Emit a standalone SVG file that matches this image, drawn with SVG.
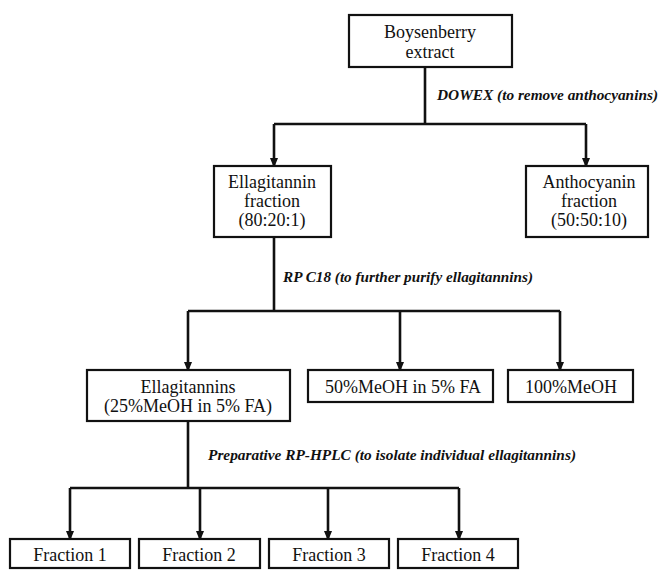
<svg xmlns="http://www.w3.org/2000/svg" width="661" height="571" viewBox="0 0 661 571">
<style>
.box{fill:#fff;stroke:#111;stroke-width:2.2}
.t{font-family:"Liberation Serif","Times New Roman",serif;font-size:18px;fill:#111;text-anchor:middle}
.lbl{font-family:"Liberation Serif","Times New Roman",serif;font-size:15px;font-weight:bold;font-style:italic;fill:#111}
.c{fill:none;stroke:#111;stroke-width:2.6}
.a{fill:none;stroke:#111;stroke-width:2.6;marker-end:url(#ah)}
</style>
<defs>
<marker id="ah" markerUnits="userSpaceOnUse" markerWidth="10" markerHeight="12" refX="10" refY="5" orient="auto" viewBox="0 0 12 10">
<path d="M0 0 L12 5 L0 10 Z" fill="#111"/>
</marker>
</defs>
<g id="connectors">
<path class="c" d="M425 67 V124"/>
<path class="c" d="M274 124 H586"/>
<path class="a" d="M274 124 V166"/>
<path class="a" d="M586 124 V166"/>
<path class="c" d="M274 237 V311"/>
<path class="c" d="M188 311 H560"/>
<path class="a" d="M188 311 V370"/>
<path class="a" d="M400 311 V370"/>
<path class="a" d="M560 311 V370"/>
<path class="c" d="M188 421 V488"/>
<path class="c" d="M70 488 H459"/>
<path class="a" d="M70 488 V539"/>
<path class="a" d="M200 488 V539"/>
<path class="a" d="M328 488 V539"/>
<path class="a" d="M459 488 V539"/>
</g>
<g id="labels">
<text class="lbl" x="437" y="100" textLength="221" lengthAdjust="spacingAndGlyphs">DOWEX (to remove anthocyanins)</text>
<text class="lbl" x="283" y="282" textLength="250" lengthAdjust="spacingAndGlyphs">RP C18 (to further purify ellagitannins)</text>
<text class="lbl" x="208" y="460" textLength="368" lengthAdjust="spacingAndGlyphs">Preparative RP-HPLC (to isolate individual ellagitannins)</text>
</g>
<g id="boysenberry">
<rect class="box" x="349" y="15" width="163" height="52"/>
<text class="t" x="430" y="38">Boysenberry</text>
<text class="t" x="430" y="58">extract</text>
</g>
<g id="ellagitannin-fraction">
<rect class="box" x="214" y="166" width="117" height="71"/>
<text class="t" x="272" y="188">Ellagitannin</text>
<text class="t" x="272" y="207">fraction</text>
<text class="t" x="272" y="226">(80:20:1)</text>
</g>
<g id="anthocyanin-fraction">
<rect class="box" x="526" y="166" width="122" height="71"/>
<text class="t" x="589" y="188">Anthocyanin</text>
<text class="t" x="589" y="207">fraction</text>
<text class="t" x="589" y="226">(50:50:10)</text>
</g>
<g id="ellagitannins">
<rect class="box" x="87" y="370" width="203" height="51"/>
<text class="t" x="188" y="393">Ellagitannins</text>
<text class="t" x="188" y="412">(25%MeOH in 5% FA)</text>
</g>
<g id="meoh50">
<rect class="box" x="308" y="370" width="185" height="32"/>
<text class="t" x="403" y="393">50%MeOH in 5% FA</text>
</g>
<g id="meoh100">
<rect class="box" x="508" y="370" width="125" height="32"/>
<text class="t" x="571" y="393">100%MeOH</text>
</g>
<g id="fraction1">
<rect class="box" x="10" y="539" width="120" height="29"/>
<text class="t" x="70" y="561">Fraction 1</text>
</g>
<g id="fraction2">
<rect class="box" x="139" y="539" width="121" height="29"/>
<text class="t" x="199" y="561">Fraction 2</text>
</g>
<g id="fraction3">
<rect class="box" x="269" y="539" width="120" height="29"/>
<text class="t" x="329" y="561">Fraction 3</text>
</g>
<g id="fraction4">
<rect class="box" x="398" y="539" width="120" height="29"/>
<text class="t" x="458" y="561">Fraction 4</text>
</g>
</svg>
